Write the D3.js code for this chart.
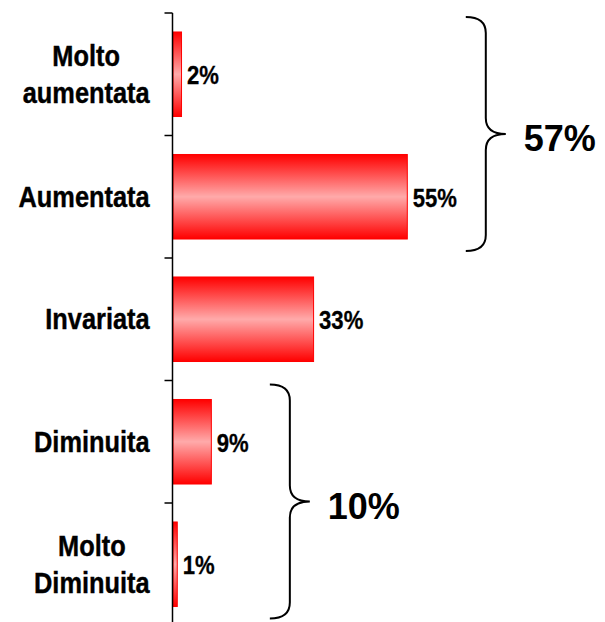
<!DOCTYPE html>
<html>
<head>
<meta charset="utf-8">
<script src="https://cdn.jsdelivr.net/npm/d3@7"></script>
<style>
  body { margin: 0; background: #fff; }
  svg { display: block; }
  text { font-family: "Liberation Sans", Arial, sans-serif; font-weight: bold; fill: #000; }
</style>
</head>
<body>
<div id="chart"></div>
<script>
// categories (top to bottom), with line breaks for the axis labels
var categories = ["Molto aumentata", "Aumentata", "Invariata", "Diminuita", "Molto Diminuita"];
var categoryLines = [["Molto", "aumentata"], ["Aumentata"], ["Invariata"], ["Diminuita"], ["Molto", "Diminuita"]];
// percentages
var values = [2, 55, 33, 9, 1];
// brace groups: which categories are summed and the label printed
var groupCats = [["Molto aumentata", "Aumentata"], ["Diminuita", "Molto Diminuita"]];
var groupLabels = ["57%", "10%"];

var width = 605, height = 622;
var axisX = 172.5;
var sx = 0.875; // narrow font look

var svg = d3.select("#chart").append("svg")
  .attr("width", width)
  .attr("height", height);

var defs = svg.append("defs");
var grad = defs.append("linearGradient")
  .attr("id", "barGrad")
  .attr("x1", 0).attr("y1", 0).attr("x2", 0).attr("y2", 1);
grad.append("stop").attr("offset", "0%").attr("stop-color", "#ff0000");
grad.append("stop").attr("offset", "50%").attr("stop-color", "#ffaaaa");
grad.append("stop").attr("offset", "100%").attr("stop-color", "#ff0000");

var y = d3.scaleBand()
  .domain(categories)
  .range([13, 625.5])
  .paddingInner(0.31)
  .paddingOuter(0.155);

var x = d3.scaleLinear()
  .domain([0, 100])
  .range([axisX, axisX + 426]);

// bars
svg.selectAll(".bar")
  .data(values)
  .enter()
  .append("rect")
  .attr("class", "bar")
  .attr("x", x(0) + 0.5)
  .attr("y", function(d, i) { return y(categories[i]); })
  .attr("width", function(d) { return x(d) - x(0); })
  .attr("height", y.bandwidth())
  .attr("fill", "url(#barGrad)")
  .attr("stroke", "#ff0000")
  .attr("stroke-width", 1);

// axis line and ticks between categories
var step = y.step();
var y0 = y.range()[0];
var tickYs = d3.range(categories.length + 1).map(function(i) { return y0 + i * step; });
svg.append("line")
  .attr("x1", axisX).attr("x2", axisX)
  .attr("y1", y0).attr("y2", height)
  .attr("stroke", "#000").attr("stroke-width", 1.5);
svg.selectAll(".tick")
  .data(tickYs)
  .enter()
  .append("line")
  .attr("class", "tick")
  .attr("x1", axisX - 8).attr("x2", axisX)
  .attr("y1", function(d) { return d; })
  .attr("y2", function(d) { return d; })
  .attr("stroke", "#000").attr("stroke-width", 1.5);

// category labels: block right-aligned at x=150, lines centered
categoryLines.forEach(function(lines, i) {
  var cy = y(categories[i]) + y.bandwidth() / 2;
  var g = svg.append("g");
  var t = g.append("text")
    .attr("text-anchor", "middle")
    .attr("stroke", "#000")
    .attr("stroke-width", 0.4)
    .style("font-size", "29px");
  var first = lines.length == 1 ? 10 : -8.5;
  lines.forEach(function(l, j) {
    t.append("tspan")
      .attr("x", 0)
      .attr("y", first + j * 37)
      .text(l);
  });
  var w = t.node().getBBox().width * sx;
  g.attr("transform", "translate(" + (150 - w / 2) + "," + cy + ") scale(" + sx + ",1)");
});

// value labels
values.forEach(function(v, i) {
  var cy = y(categories[i]) + y.bandwidth() / 2;
  svg.append("g")
    .attr("transform", "translate(" + (x(v) + 6) + "," + (cy + 10) + ") scale(0.85,1)")
    .append("text")
    .attr("stroke", "#000")
    .attr("stroke-width", 0.3)
    .style("font-size", "26px")
    .text(v + "%");
});

// braces
function bracePath(L, V, tip, T, B) {
  var M = (T + B) / 2, r = 16;
  return "M" + L + "," + T +
    " Q" + V + "," + T + " " + V + "," + (T + r) +
    " L" + V + "," + (M - r) +
    " Q" + V + "," + M + " " + tip + "," + M +
    " Q" + V + "," + M + " " + V + "," + (M + r) +
    " L" + V + "," + (B - r) +
    " Q" + V + "," + B + " " + L + "," + B;
}
groupCats.forEach(function(cats, k) {
  var idx = cats.map(function(c) { return categories.indexOf(c); });
  var top = y(cats[0]) - 15;
  var bot = y(cats[cats.length - 1]) + y.bandwidth() + 12;
  var maxEnd = d3.max(idx, function(i) { return x(values[i]); });
  var L = maxEnd + 59, V = L + 20, tip = V + 20;
  svg.append("path")
    .attr("d", bracePath(L, V, tip, top, bot))
    .attr("fill", "none")
    .attr("stroke", "#000")
    .attr("stroke-width", 2);
  svg.append("text")
    .attr("x", tip + 18)
    .attr("y", (top + bot) / 2 + 17)
    .style("font-size", "36px")
    .text(groupLabels[k]);
});
</script>
</body>
</html>
